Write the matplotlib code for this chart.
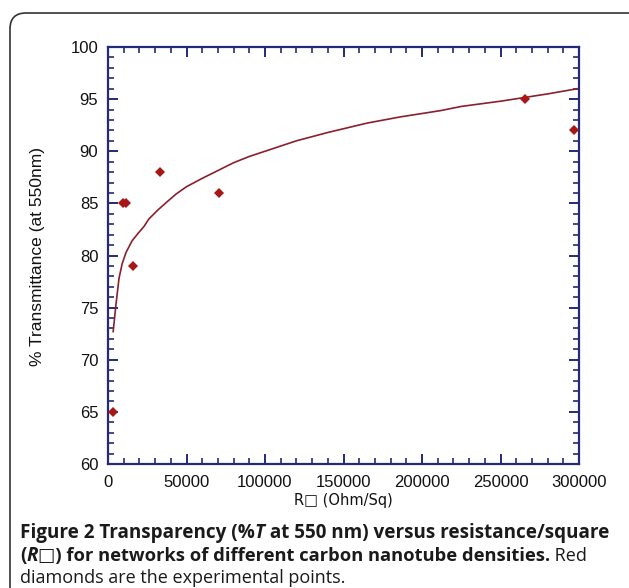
import matplotlib
matplotlib.use("Agg")
import matplotlib.pyplot as plt
from matplotlib.patches import FancyBboxPatch
from matplotlib.ticker import MultipleLocator

# ---- data ----
pts_x = [3300, 9700, 11700, 15800, 33400, 70700, 265800, 297000]
pts_y = [65, 85, 85, 79, 88, 86, 95, 92]

fit_x = [3300, 5000, 7000, 9000, 11500, 15300, 19000, 23000, 26000, 32000, 38000,
         43400, 50000, 60000, 70700, 80000, 90000, 100000, 120000, 140000,
         165000, 186400, 211900, 225000, 250000, 280000, 299000]
fit_y = [72.7, 75.2, 77.8, 79.2, 80.3, 81.4, 82.1, 82.8, 83.5, 84.4, 85.2,
         85.9, 86.6, 87.4, 88.2, 88.9, 89.5, 90.0, 91.0, 91.8,
         92.7, 93.3, 93.9, 94.3, 94.8, 95.5, 96.0]

x_ticks = [0, 50000, 100000, 150000, 200000, 250000, 300000]
y_ticks = [60, 65, 70, 75, 80, 85, 90, 95, 100]

W, H = 629, 588
fig = plt.figure(figsize=(W / 100, H / 100), dpi=100)

# background frame in pixel coordinates
bg = fig.add_axes([0, 0, 1, 1])
bg.set_xlim(0, W)
bg.set_ylim(H, 0)
bg.axis("off")
frame = FancyBboxPatch((10, 13), 640, 600, boxstyle="round,pad=0,rounding_size=16",
                       fill=False, edgecolor="#333333", linewidth=1.2)
bg.add_patch(frame)

navy = "#252a78"
L, R, T, B = 108, 579, 47, 464
ax = fig.add_axes([L / W, 1 - B / H, (R - L) / W, (B - T) / H])
ax.plot(fit_x, fit_y, color="#8a1f2e", linewidth=1.2, zorder=2)
ax.plot(pts_x, pts_y, linestyle="none", marker="D", markersize=5.5,
        color="#a81616", markeredgewidth=0, zorder=3)

ax.set_xlim(0, 300000)
ax.set_ylim(60, 100)
ax.set_xticks(x_ticks)
ax.set_yticks(y_ticks)
ax.xaxis.set_minor_locator(MultipleLocator(10000))
ax.yaxis.set_minor_locator(MultipleLocator(1))
ax.set_xticklabels([str(v) for v in x_ticks])
ax.set_yticklabels([str(v) for v in y_ticks])
for s in ax.spines.values():
    s.set_color(navy)
    s.set_linewidth(1.6)
ax.tick_params(which="both", direction="in", top=True, right=True, color=navy)
ax.tick_params(which="major", length=7, width=1.4, labelsize=12,
               labelcolor="#111111")
ax.tick_params(axis="y", which="major", pad=7)
ax.tick_params(axis="x", which="major", pad=8)
ax.tick_params(which="minor", length=4, width=1.2)
for lab in ax.get_xticklabels() + ax.get_yticklabels():
    lab.set_fontfamily("Liberation Sans")

fig.text(38 / W, 1 - 257 / H, "% Transmittance (at 550nm)", rotation=90,
         ha="center", va="center", fontsize=12.5, family="Liberation Sans",
         color="#111111")
fig.text(343 / W, 1 - 501 / H, "R\u25a1 (Ohm/Sq)", ha="center", va="center",
         fontsize=10.5, family=["DejaVu Sans"], color="#111111")

# caption with mixed styles, pieces placed one after another
cap_fam = ["Open Sans", "DejaVu Sans"]
lines = [
    [("Figure 2 Transparency (%", "bold", "normal", 13.6), ("T", "bold", "italic", 13.6),
     (" at 550 nm) versus resistance/square", "bold", "normal", 13.6)],
    [("(", "bold", "normal", 13.6), ("R", "bold", "italic", 13.6),
     ("\u25a1) for networks of different carbon nanotube densities.", "bold", "normal", 13.2),
     (" Red", "normal", "normal", 13.0)],
    [("diamonds are the experimental points.", "normal", "normal", 13.0)],
]
ys = [538, 561, 583]

fig.canvas.draw()
renderer = fig.canvas.get_renderer()
for line, y0 in zip(lines, ys):
    xpix = 20
    for txt, weight, style, size in line:
        t = fig.text(xpix / W, 1 - y0 / H, txt, ha="left", va="baseline",
                     fontsize=size, family=cap_fam, weight=weight,
                     style=style, color="#1a1a1a")
        bb = t.get_window_extent(renderer=renderer)
        xpix += bb.width

fig.savefig("out.png", dpi=100)
